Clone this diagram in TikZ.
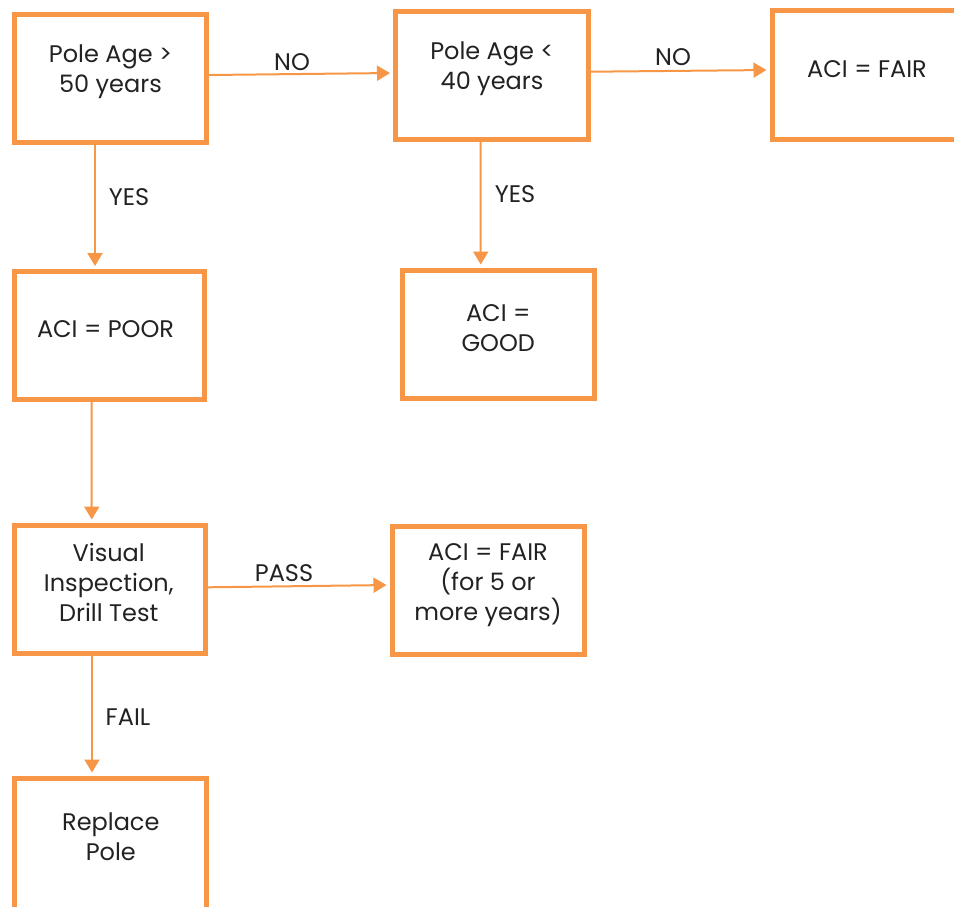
\documentclass[tikz,border=0pt]{standalone}
\usepackage{fontspec}
\setmainfont{Poppins}
\usetikzlibrary{arrows.meta}
\definecolor{acc}{HTML}{F79646}
\definecolor{ink}{HTML}{222222}
\begin{document}
\begin{tikzpicture}[x=1pt,y=-1pt,
  box/.style={draw=acc, line width=5pt, rectangle, inner sep=0pt},
  txt/.style={align=center, font=\fontsize{24}{30}\selectfont, text=ink, inner sep=0pt},
  conn/.style={draw=acc, line width=2pt, -{Triangle[length=13pt,width=15pt]}, shorten >=3pt},
  lbl/.style={font=\fontsize{24}{30}\selectfont, text=ink, inner sep=0pt}]
\useasboundingbox (0,0) rectangle (954,906);
% boxes
\node[box, minimum width=192pt, minimum height=128pt] (A) at (110.5,78.5) {};
\node[box, minimum width=193pt, minimum height=128pt] (B) at (492,75.5) {};
\node[box, minimum width=190pt, minimum height=129pt] (C) at (867,75) {};
\node[box, minimum width=190pt, minimum height=128pt] (D) at (109.5,335.5) {};
\node[box, minimum width=191.5pt, minimum height=128pt] (E) at (498.25,334) {};
\node[box, minimum width=191.5pt, minimum height=128pt] (F) at (109.75,589) {};
\node[box, minimum width=192pt, minimum height=128pt] (G) at (488,590) {};
\node[box, minimum width=192pt, minimum height=132pt] (H) at (110.8,844) {};
% texts
\node[txt] (At) at ([yshift=6.5pt]A.center) {Pole Age >\\50 years};
\node[txt] (Bt) at ([yshift=6.5pt]B.center) {Pole Age <\\40 years};
\node[txt] (Ct) at ([yshift=6pt]C.center) {ACI = FAIR};
\node[txt] (Dt) at ([xshift=-4pt,yshift=6.7pt]D.center) {ACI = POOR};
\node[txt] (Et) at ([yshift=6pt]E.center) {ACI =\\GOOD};
\node[txt] (Ft) at ([xshift=-1pt,yshift=7pt]F.center) {Visual\\Inspection,\\Drill Test};
\node[txt] (Gt) at ([yshift=5.3pt]G.center) {ACI = FAIR\\(for 5 or\\more years)};
\node[txt] (Ht) at ([yshift=7.5pt]H.center) {Replace\\Pole};
% connectors
\draw[conn] ([yshift=3.5pt]A.east) -- ([yshift=2.5pt]B.west);
\draw[conn] ([yshift=3.8pt]B.east) -- ([yshift=5pt]C.west);
\draw[conn] ([xshift=-15.5pt]A.south) -- ([xshift=-14.5pt]D.north);
\draw[conn] ([xshift=-11.3pt]B.south) -- ([xshift=-17.5pt]E.north);
\draw[conn] ([xshift=-17.8pt]D.south) -- ([xshift=-18pt]F.north);
\draw[conn] ([yshift=1.7pt]F.east) -- ([yshift=5pt]G.west);
\draw[conn] ([xshift=-17.75pt]F.south) -- ([xshift=-18.8pt]H.north);
% labels
\node[lbl] (l1) at (292,62) {NO};
\node[lbl] (l2) at (673,57) {NO};
\node[lbl] (l3) at (129,197) {YES};
\node[lbl] (l4) at (515,194) {YES};
\node[lbl] (l5) at (284,573) {PASS};
\node[lbl] (l6) at (128,717) {FAIL};
\end{tikzpicture}
\end{document}
